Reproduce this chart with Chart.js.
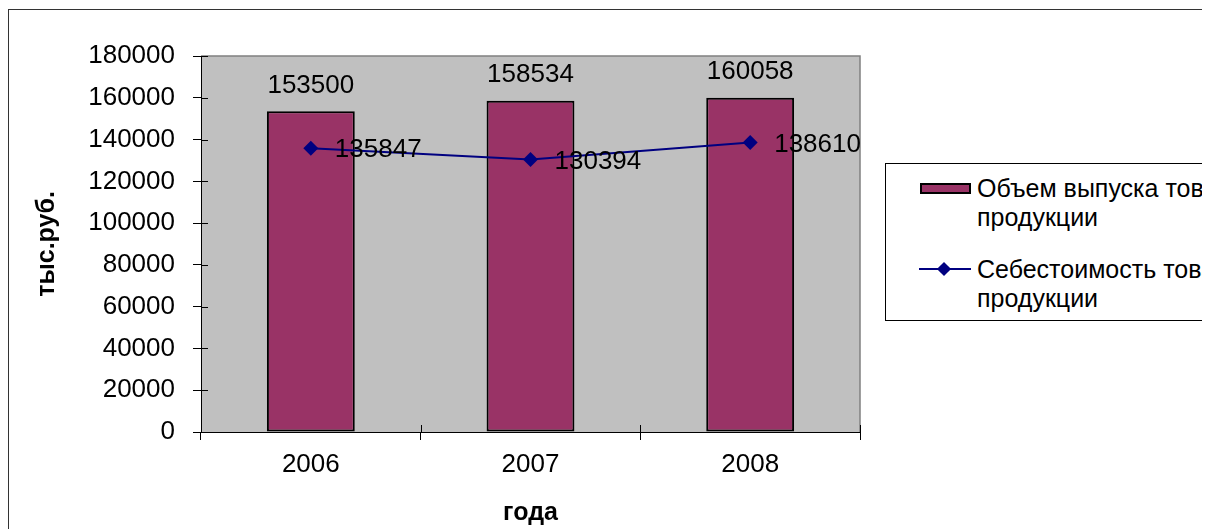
<!DOCTYPE html>
<html lang="ru">
<head>
<meta charset="utf-8">
<script src="https://cdn.jsdelivr.net/npm/chart.js@4/dist/chart.umd.min.js"></script>
<style>
  body { margin: 0; overflow: hidden; background: #fff; font-family: "Liberation Sans", Arial, sans-serif; }
  #wrap { position: relative; width: 1202px; height: 529px; overflow: hidden; }
  #frame { position: absolute; left: 8px; top: 9px; width: 1300px; height: 600px; border: 1.5px solid #333; }
  #chart { position: absolute; left: 0; top: 0; }
  #legend { position: absolute; left: 885px; top: 163px; width: 420px; height: 156px; border: 1px solid #000; background: #fff; }
  .item { position: absolute; left: 0; width: 100%; }
  .txt { position: absolute; left: 91px; width: 340px; font-size: 25px; line-height: 29px; color: #000; }
  .swatch { position: absolute; left: 34px; width: 47px; height: 7px; border: 2px solid #000; background: #993366; }
  .ln { position: absolute; left: 33px; width: 52px; height: 2px; background: #000080; }
  .dia { position: absolute; left: 53px; width: 10px; height: 10px; background: #000080; transform: rotate(45deg); }
</style>
</head>
<body>
<div id="wrap">
  <div id="frame"></div>
  <canvas id="chart" width="1215" height="529"></canvas>
  <div id="legend"></div>
</div>
<script>
// --- data ---
const years = ['2006', '2007', '2008'];
const volume = [153500, 158534, 160058];
const cost = [135847, 130394, 138610];
const volumeLabel = 'Объем выпуска товарной продукции';
const costLabel = 'Себестоимость товарной продукции';

const FONT = '"Liberation Sans", Arial, sans-serif';

// gray plot area with darker top/right edge
const plotBg = {
  id: 'plotBg',
  beforeDraw(chart) {
    const { ctx, chartArea: a } = chart;
    ctx.save();
    ctx.fillStyle = '#C0C0C0';
    ctx.fillRect(a.left, a.top, a.right - a.left, a.bottom - a.top);
    ctx.strokeStyle = '#808080';
    ctx.lineWidth = 1.5;
    ctx.beginPath();
    ctx.moveTo(a.left, a.top); ctx.lineTo(a.right, a.top); ctx.lineTo(a.right, a.bottom);
    ctx.stroke();
    ctx.restore();
  }
};

// tick marks crossing into the plot area
const crossTicks = {
  id: 'crossTicks',
  afterDraw(chart) {
    const { ctx, chartArea: a, scales } = chart;
    ctx.save();
    ctx.strokeStyle = '#000';
    ctx.lineWidth = 1;
    scales.y.ticks.forEach(t => {
      const y = Math.round(scales.y.getPixelForValue(t.value)) + 0.5;
      ctx.beginPath(); ctx.moveTo(a.left, y); ctx.lineTo(a.left + 7, y); ctx.stroke();
    });
    const half = (scales.x.getPixelForValue(1) - scales.x.getPixelForValue(0)) / 2;
    for (let i = 0; i <= years.length; i++) {
      const x = Math.round(scales.x.getPixelForValue(i) - half) + 0.5;
      ctx.beginPath(); ctx.moveTo(x, a.bottom); ctx.lineTo(x, a.bottom - 7); ctx.stroke();
    }
    ctx.restore();
  }
};

// value labels
const valueLabels = {
  id: 'valueLabels',
  afterDatasetsDraw(chart) {
    const ctx = chart.ctx;
    ctx.save();
    ctx.font = '26px ' + FONT;
    ctx.fillStyle = '#000';
    ctx.textBaseline = 'middle';
    chart.data.datasets.forEach((ds, di) => {
      const meta = chart.getDatasetMeta(di);
      meta.data.forEach((el, i) => {
        if (ds.type === 'bar') {
          ctx.textAlign = 'center';
          ctx.fillText(String(ds.data[i]), el.x, el.y - 26);
        } else {
          ctx.textAlign = 'left';
          ctx.fillText(String(ds.data[i]), el.x + 24, el.y + 2);
        }
      });
    });
    ctx.restore();
  }
};

const chart = new Chart(document.getElementById('chart'), {
  data: {
    labels: years,
    datasets: [
      {
        type: 'line',
        label: costLabel,
        data: cost,
        borderColor: '#000080',
        backgroundColor: '#000080',
        borderWidth: 2,
        pointStyle: 'rectRot',
        pointRadius: 7.5,
        pointBackgroundColor: '#000080',
        pointBorderWidth: 0,
        tension: 0,
        order: 0
      },
      {
        type: 'bar',
        label: volumeLabel,
        data: volume,
        backgroundColor: '#993366',
        borderColor: '#000',
        borderWidth: 2,
        borderSkipped: false,
        barPercentage: 0.4,
        categoryPercentage: 1,
        order: 1
      }
    ]
  },
  options: {
    responsive: false,
    animation: false,
    layout: { padding: { left: 0, top: 56, right: 355, bottom: 0 } },
    plugins: { legend: { display: false }, tooltip: { enabled: false } },
    scales: {
      x: {
        offset: true,
        grid: { offset: true, drawOnChartArea: false, tickLength: 8, color: '#000' },
        border: { color: '#000', width: 1 },
        ticks: { color: '#000', font: { family: FONT, size: 26 }, padding: 9 },
        title: { display: true, text: 'года', color: '#000', font: { family: FONT, size: 25, weight: 'bold', lineHeight: 1.2 }, padding: { top: 0, bottom: 1 } },
        afterFit(s) { s.height = 97; }
      },
      y: {
        min: 0, max: 180000,
        ticks: { stepSize: 20000, color: '#000', font: { family: FONT, size: 26 }, padding: 18, callback: v => String(v) },
        grid: { drawOnChartArea: false, tickLength: 8, color: '#000' },
        border: { color: '#000', width: 1 },
        title: { display: true, text: 'тыс.руб.', color: '#000', font: { family: FONT, size: 25, weight: 'bold', lineHeight: 1.2 }, padding: { top: 32, bottom: 0 } },
        afterFit(s) { s.width = 201; }
      }
    }
  },
  plugins: [plotBg, crossTicks, valueLabels]
});

// legend built from the chart's datasets
const leg = document.getElementById('legend');
const bar = chart.data.datasets[1], line = chart.data.datasets[0];
leg.innerHTML = `
  <div class="item" style="top:0">
    <div class="swatch" style="top:19px"></div>
    <div class="txt" style="top:10px">${bar.label}</div>
  </div>
  <div class="item" style="top:0">
    <div class="ln" style="top:104px"></div>
    <div class="dia" style="top:100px"></div>
    <div class="txt" style="top:91px">${line.label}</div>
  </div>`;
</script>
</body>
</html>
